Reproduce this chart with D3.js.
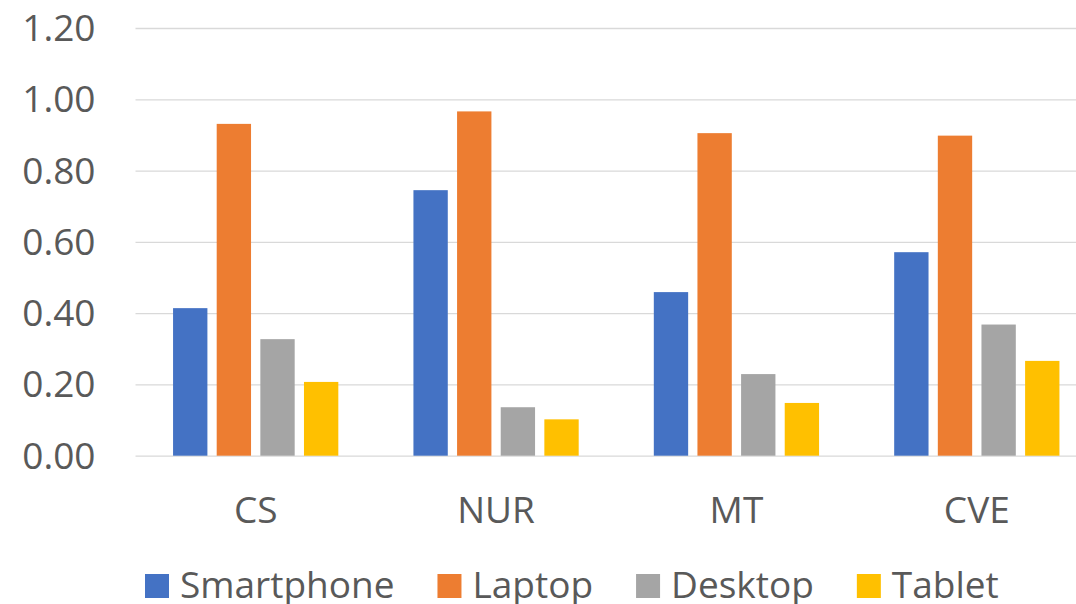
<!DOCTYPE html>
<html>
<head>
<meta charset="utf-8">
<script src="https://cdn.jsdelivr.net/npm/d3@7"></script>
<style>
  body { margin: 0; background: #fff; }
  svg { display: block; }
  text { font-family: "Open Sans", sans-serif; fill: #595959; }
</style>
</head>
<body>
<svg id="svg" width="1076" height="604"></svg>
<script>
var categories = ["CS", "NUR", "MT", "CVE"];
var seriesNames = ["Smartphone", "Laptop", "Desktop", "Tablet"];
var smartphone = [0.414, 0.745, 0.459, 0.571];
var laptop = [0.931, 0.966, 0.905, 0.898];
var desktop = [0.327, 0.136, 0.229, 0.368];
var tablet = [0.207, 0.102, 0.148, 0.266];
var yTicks = [0, 0.2, 0.4, 0.6, 0.8, 1.0, 1.2];

var colors = ["#4472C4", "#ED7D31", "#A5A5A5", "#FFC000"];
var allSeries = [smartphone, laptop, desktop, tablet];

const svg = d3.select('#svg');
var left = 135.5, right = 1097;  // plot runs past the crop on the right
var top_ = 28, bottom = 455.7;

var y = d3.scaleLinear().domain([0, 1.2]).range([bottom, top_]);
var x0 = d3.scaleBand().domain(categories).range([left, right])
  .paddingInner(0.3125).paddingOuter(0.15625);
var x1 = d3.scaleBand().domain(seriesNames).range([0, x0.bandwidth()])
  .paddingInner(0.213);

// gridlines + y labels
var yAxis = svg.append("g")
  .attr("transform", "translate(" + left + ",0)")
  .call(d3.axisLeft(y).tickValues(yTicks).tickSize(-(right - left))
    .tickFormat(d3.format(".2f")).tickPadding(40));
yAxis.select(".domain").remove();
yAxis.selectAll(".tick line").attr("stroke", "#d9d9d9").attr("stroke-width", 1.3);
yAxis.selectAll(".tick text")
  .attr("dy", "12.5px")
  .style("font-size", "37px")
  .attr("fill", "#595959");

// category labels
var xAxis = svg.append("g")
  .attr("transform", "translate(0," + bottom + ")")
  .call(d3.axisBottom(x0).tickSize(0).tickPadding(0));
xAxis.select(".domain").remove();
xAxis.selectAll(".tick text")
  .attr("y", 67.3).attr("dy", 0)
  .style("font-size", "37px")
  .attr("fill", "#595959");

// bars
var groups = svg.selectAll(".grp")
  .data(categories)
  .enter().append("g")
  .attr("class", "grp")
  .attr("transform", function(d) { return "translate(" + x0(d) + ",0)"; });

groups.selectAll("rect")
  .data(function(d, i) { return seriesNames.map(function(s, j) { return {s: s, v: allSeries[j][i], c: colors[j]}; }); })
  .enter().append("rect")
  .attr("x", function(d) { return x1(d.s); })
  .attr("y", function(d) { return y(d.v); })
  .attr("width", x1.bandwidth())
  .attr("height", function(d) { return bottom - y(d.v); })
  .attr("fill", function(d) { return d.c; });

// legend
var legend = svg.append("g").attr("transform", "translate(145,0)");
var lx = 0;
seriesNames.forEach(function(s, i) {
  var item = legend.append("g").attr("transform", "translate(" + lx + ",0)");
  item.append("rect").attr("x", 0).attr("y", 574).attr("width", 24).attr("height", 24)
    .attr("fill", colors[i]);
  var t = item.append("text").attr("x", 35).attr("y", 597.5)
    .style("font-size", "37px").text(s);
  lx += 35 + t.node().getComputedTextLength() + 43;
});
</script>
</body>
</html>
